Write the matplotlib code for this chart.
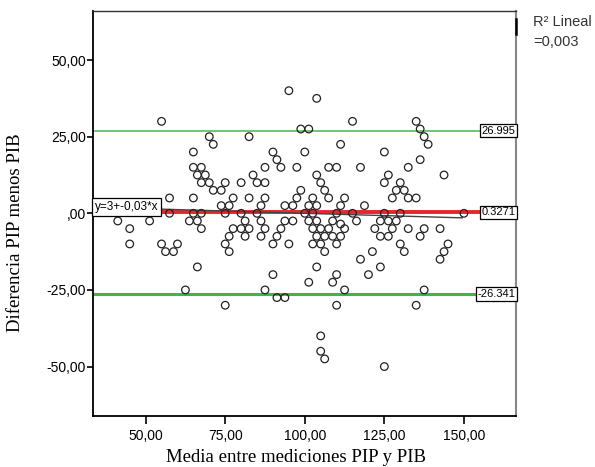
import numpy as np
import matplotlib
matplotlib.use("Agg")
import matplotlib.pyplot as plt

media = [
    55, 70, 71.25, 65, 65, 67.5, 66.25, 68.75, 67.5, 70, 75, 71.25, 73.75,
    57.5, 65, 77.5, 73.75, 76.25, 57.5, 65, 67.5, 75, 41.25, 51.25, 63.75,
    66.25, 45, 67.5, 77.5, 76.25, 45, 55, 56.25, 58.75, 60, 75, 76.25,
    66.25, 62.5, 75,
    95, 103.75, 115, 98.75, 101.25, 82.5, 111.25, 90, 100, 91.25, 87.5, 92.5,
    97.5, 107.5, 110, 117.5, 83.75, 103.75, 80, 85, 87.5, 105, 106.25, 98.75,
    82.5, 87.5, 97.5, 102.5, 107.5, 112.5, 86.25, 93.75, 96.25, 101.25,
    103.75, 111.25, 118.75, 80, 85, 100, 102.5, 110, 115, 81.25, 86.25,
    93.75, 96.25, 101.25, 103.75, 108.75, 116.25, 111.25, 80, 82.5, 87.5,
    92.5, 102.5, 105, 107.5, 112.5, 122, 81.25, 86.25, 91.25, 103.75, 106.25,
    108.75, 111.25, 90, 95, 102.5, 105, 110, 106.25, 117.5, 121.25,
    103.75, 90, 110, 120, 101.25, 108.75, 87.5, 112.5, 91.25, 93.75, 110,
    105, 105, 106.25,
    135, 136.25, 137.5, 138.75, 125, 136.25, 132.5, 143.75, 126.25, 125, 130,
    128.75, 131.25, 127.5, 132.5, 135, 125, 130, 150, 123.75, 126.25, 128.75,
    127.5, 132.5, 137.5, 142.5, 123.75, 126.25, 136.25, 130, 145, 131.25,
    143.75, 142.5, 123.75, 137.5, 135, 125,
]
diferencia = [
    30, 25, 22.5, 20, 15, 15, 12.5, 12.5, 10, 10, 10, 7.5, 7.5,
    5, 5, 5, 2.5, 2.5, 0, 0, 0, 0, -2.5, -2.5, -2.5,
    -2.5, -5, -5, -5, -7.5, -10, -10, -12.5, -12.5, -10, -10, -12.5,
    -17.5, -25, -30,
    40, 37.5, 30, 27.5, 27.5, 25, 22.5, 20, 20, 17.5, 15, 15,
    15, 15, 15, 15, 12.5, 12.5, 10, 10, 10, 10, 7.5, 7.5,
    5, 5, 5, 5, 5, 5, 2.5, 2.5, 2.5, 2.5,
    2.5, 2.5, 2.5, 0, 0, 0, 0, 0, 0, -2.5, -2.5,
    -2.5, -2.5, -2.5, -2.5, -2.5, -2.5, -3.5, -5, -5, -5,
    -5, -5, -5, -5, -5, -5, -7.5, -7.5, -7.5, -7.5, -7.5,
    -7.5, -7.5, -10, -10, -10, -10, -10, -12.5, -15, -12.5,
    -17.5, -20, -20, -20, -22.5, -22.5, -25, -25, -27.5, -27.5, -30,
    -40, -45, -47.5,
    30, 27.5, 25, 22.5, 20, 17.5, 15, 12.5, 12.5, 10, 10,
    7.5, 7.5, 5, 5, 5, 0, 0, 0, -2.5, -2.5, -2.5,
    -5, -5, -5, -5, -7.5, -7.5, -7.5, -10, -10, -12.5,
    -12.5, -15, -17.5, -25, -30, -50,
]

limite_sup = 26.995
media_dif = 0.3271
limite_inf = -26.341
b0, b1 = 3, -0.03
r2_texto = "R\u00b2 Lineal\n=0,003"
ecuacion = "y=3+-0,03*x"

xticks = [50, 75, 100, 125, 150]
xtick_labels = ["50,00", "75,00", "100,00", "125,00", "150,00"]
yticks = [50, 25, 0, -25, -50]
ytick_labels = ["50,00", "25,00", ",00", "-25,00", "-50,00"]

tick_font = ["Liberation Sans", "DejaVu Sans"]
serif_font = ["Liberation Serif", "DejaVu Serif"]

fig = plt.figure(figsize=(5.95, 4.67), dpi=100)
ax = fig.add_axes([0.156, 0.1092, 0.7113, 0.8679])
xmin, xmax = 33.41, 166.37
ax.set_xlim(xmin, xmax)
ax.set_ylim(-66.13, 66.1)

ax.scatter(media, diferencia, s=30, facecolors="none", edgecolors="#222222",
           linewidths=0.9, zorder=3)

# lineas de limites y media
ax.axhline(limite_sup, color="#5cb85c", lw=1.2, zorder=2)
ax.axhline(limite_inf, color="#3cb54a", lw=2.2, zorder=2)
ax.axhline(media_dif, color="#e8262a", lw=2.8, zorder=2)
xr = np.array([xmin, 149.5])
ax.plot(xr, b0 + b1 * xr, color="#444444", lw=1.0, zorder=2.5)

box = dict(boxstyle="square,pad=0.15", fc="white", ec="black", lw=0.9)
for val in [limite_sup, media_dif, limite_inf]:
    lab = f"{val:.3f}" if val != media_dif else f"{val:.4f}"
    ax.text(0.998, val, lab, transform=ax.get_yaxis_transform(), ha="right",
            va="center", fontsize=8, family=tick_font, bbox=box, zorder=5)
ax.text(0.004, b0 + b1 * xmin, ecuacion, transform=ax.get_yaxis_transform(),
        ha="left", va="center", fontsize=8.5, family=tick_font,
        bbox=dict(boxstyle="square,pad=0.25", fc="white", ec="black", lw=0.9),
        zorder=5)

ax.set_xticks(xticks)
ax.set_xticklabels(xtick_labels, family=tick_font, fontsize=10)
ax.set_yticks(yticks)
ax.set_yticklabels(ytick_labels, family=tick_font, fontsize=10)
ax.tick_params(axis="x", length=6, width=1.2, pad=3, color="black")
ax.tick_params(axis="y", length=4, width=1.2, pad=1, color="black")

for s in ["left", "bottom"]:
    ax.spines[s].set_linewidth(1.3)
    ax.spines[s].set_color("black")
ax.spines["top"].set_linewidth(1.0)
ax.spines["top"].set_color("#333333")
ax.spines["right"].set_linewidth(1.5)
ax.spines["right"].set_color("#888888")

# marca de leyenda junto al borde derecho
ax.plot([1.0, 1.0], [0.9785, 0.9415], transform=ax.transAxes, color="black",
        lw=1.8, clip_on=False, zorder=6)

fig.text(533 / 595, 1 - 15 / 467, r2_texto, ha="left", va="top",
         fontsize=10.5, color="#333333", linespacing=1.5,
         family=["Liberation Sans", "DejaVu Sans"])

fig.text(295.5 / 595, 1 - 458 / 467, "Media entre mediciones PIP y PIB",
         ha="center", va="center", fontsize=13.5, family=serif_font)
fig.text(16 / 595, 1 - 233 / 467, "Diferencia PIP menos PIB", rotation=90,
         ha="center", va="center", fontsize=13.5, family=serif_font)

fig.savefig("out.png", dpi=100)
